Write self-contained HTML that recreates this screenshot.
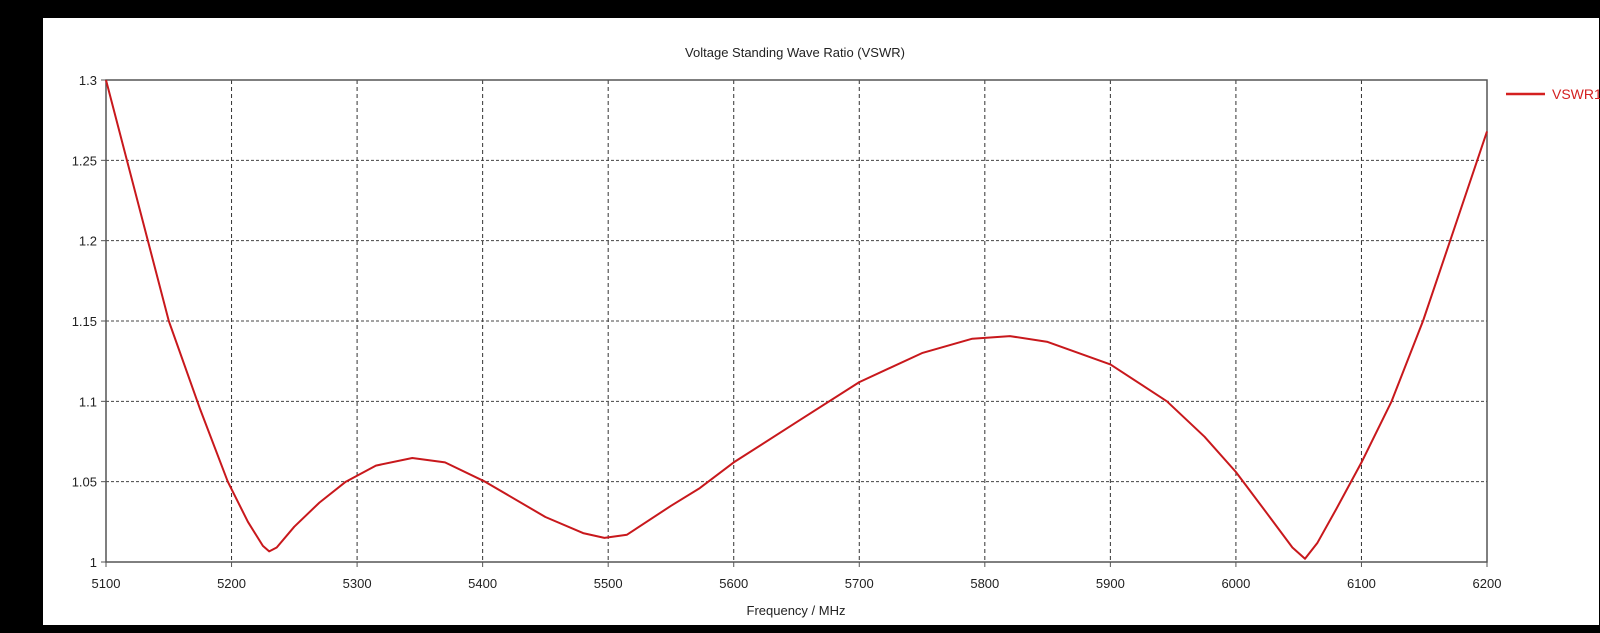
<!DOCTYPE html>
<html><head><meta charset="utf-8"><style>
html,body{margin:0;padding:0;background:#000;width:1600px;height:633px;overflow:hidden}
svg{display:block}
text{font-family:"Liberation Sans","DejaVu Sans",sans-serif;font-size:13px;fill:#222}
</style></head><body>
<svg id="chart" width="1600" height="633">
<rect x="43" y="18" width="1556" height="607" fill="#fff"/>
<g id="grid"></g>
<g id="axes"></g>
<g id="series"></g>
<text x="795" y="57" text-anchor="middle">Voltage Standing Wave Ratio (VSWR)</text>
<text x="796" y="615" text-anchor="middle">Frequency / MHz</text>
<g>
<line x1="1506" y1="94" x2="1545" y2="94" stroke="#d42020" stroke-width="2.5"/>
<text x="1552" y="99" style="fill:#d42020;font-size:14px">VSWR1</text>
</g>
</svg>
<script>
const freqs=[5100,5125,5150,5175,5197,5213,5225,5230,5236,5250,5270,5291,5315,5344,5370,5402,5450,5480,5497,5515,5550,5573,5600,5650,5700,5750,5790,5820,5850,5900,5945,5975,6000,6025,6045,6055,6065,6080,6100,6124,6149,6175,6200];
const vswr=[1.3,1.225,1.15,1.095,1.05,1.025,1.01,1.0066,1.009,1.022,1.037,1.05,1.06,1.0647,1.062,1.05,1.028,1.018,1.015,1.017,1.035,1.046,1.062,1.087,1.112,1.13,1.139,1.1406,1.137,1.123,1.1,1.078,1.056,1.03,1.009,1.002,1.012,1.033,1.062,1.1,1.15,1.21,1.268];
const xTicks=[5100,5200,5300,5400,5500,5600,5700,5800,5900,6000,6100,6200];
const yTicks=[1,1.05,1.1,1.15,1.2,1.25,1.3];
const L=106,R=1487,T=80,B=562;
const xs=v=>L+(v-5100)/(6200-5100)*(R-L);
const ys=v=>B-(v-1)/(0.3)*(B-T);
const NS="http://www.w3.org/2000/svg";
function mk(tag,attrs,parent){const e=document.createElementNS(NS,tag);for(const k in attrs)e.setAttribute(k,attrs[k]);parent.appendChild(e);return e;}
const grid=document.getElementById('grid'),axes=document.getElementById('axes'),series=document.getElementById('series');
xTicks.forEach((t,i)=>{
  const x=xs(t);
  if(i>0&&i<xTicks.length-1){const g=mk('line',{x1:x,y1:T,x2:x,y2:B,stroke:'#333','stroke-width':1,'stroke-dasharray':'4,3'},grid);
  
  }
  const tk=mk('line',{x1:x,y1:B,x2:x,y2:B+5,stroke:'#555','stroke-width':1},axes);
  
  
  const lb=mk('text',{x:x,y:B+26,'text-anchor':'middle'},axes);lb.textContent=t;
  
  
});
yTicks.forEach((t,i)=>{
  const y=ys(t);
  if(i>0&&i<yTicks.length-1){const g=mk('line',{x1:L,y1:y,x2:R,y2:y,stroke:'#444','stroke-width':1,'stroke-dasharray':'3,2'},grid);
  
  }
  const tk=mk('line',{x1:L-5,y1:y,x2:L,y2:y,stroke:'#555','stroke-width':1},axes);
  
  
  const lb=mk('text',{x:L-9,y:y+5,'text-anchor':'end'},axes);lb.textContent=t;
  
  
});
const frame=mk('rect',{x:L,y:T,width:R-L,height:B-T,fill:'none',stroke:'#555','stroke-width':1.5},axes);


const d=freqs.map((f,i)=>(i?'L':'M')+xs(f).toFixed(1)+','+ys(vswr[i]).toFixed(1)).join(' ');
const p=mk('path',{d:d,fill:'none',stroke:'#c8181c','stroke-width':2,'stroke-linejoin':'round'},series);


</script>
</body></html>
